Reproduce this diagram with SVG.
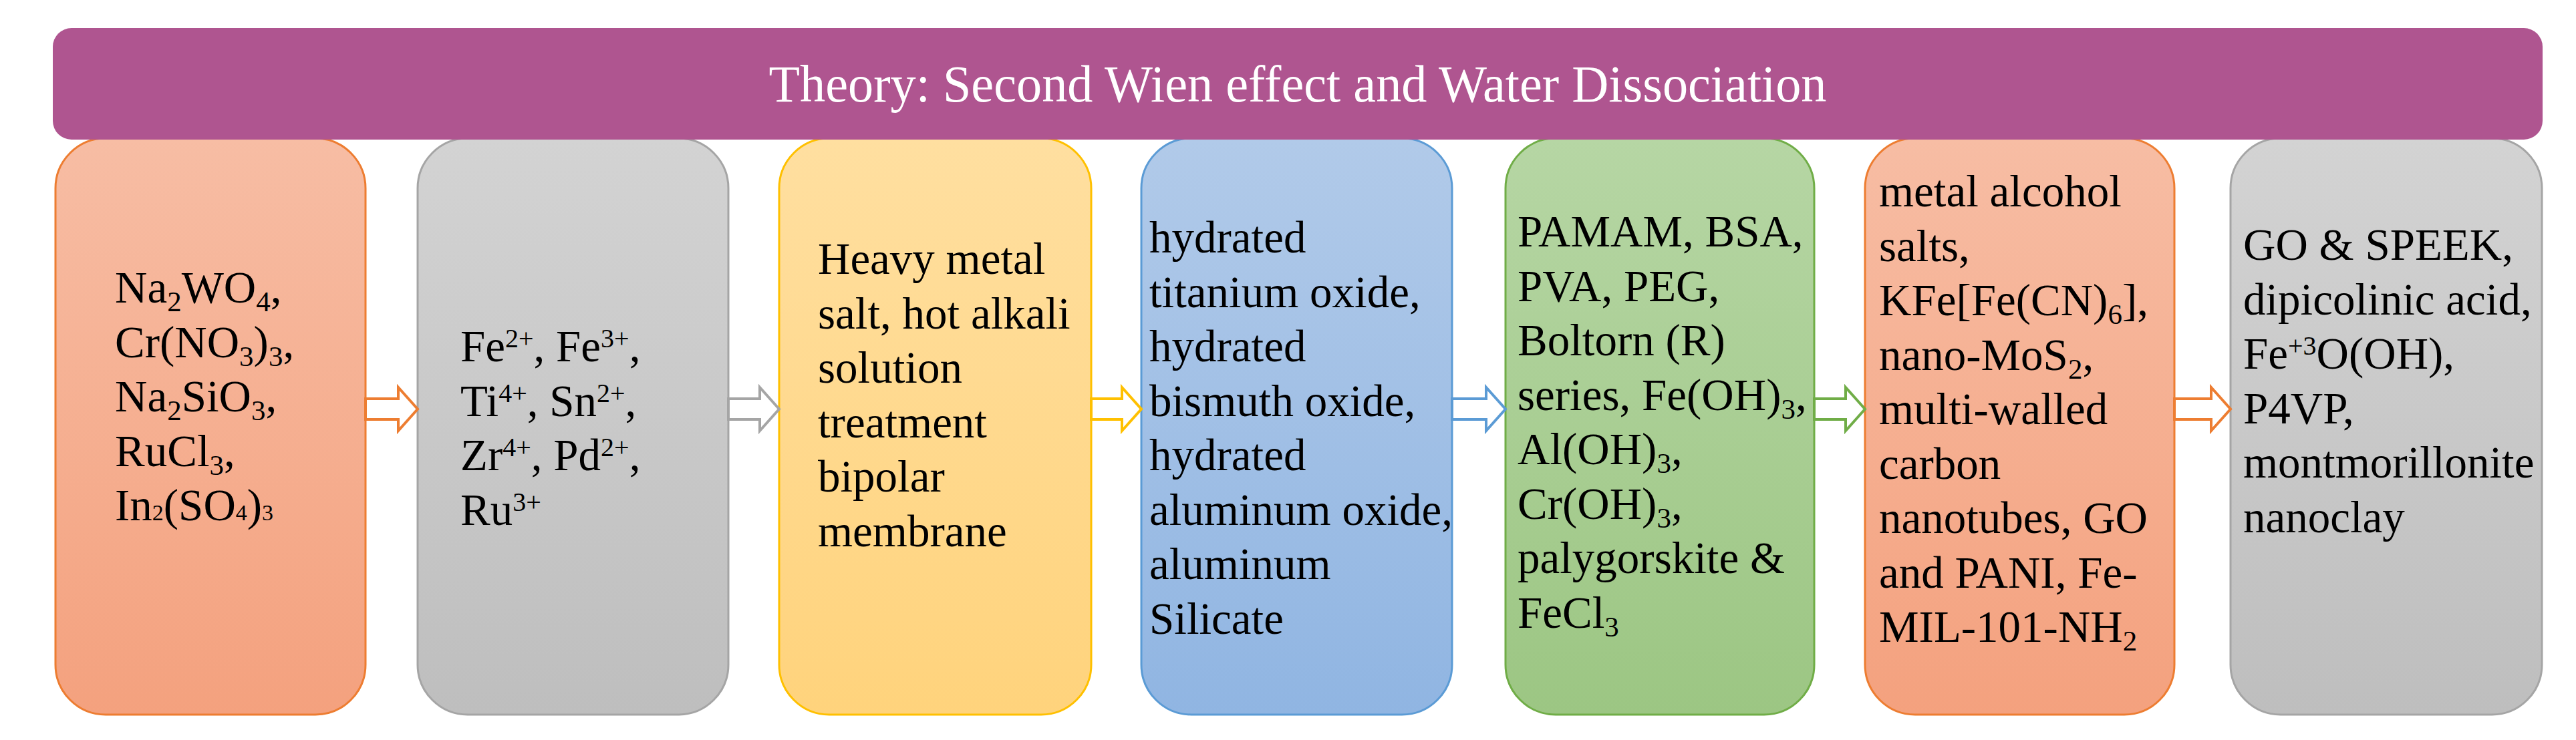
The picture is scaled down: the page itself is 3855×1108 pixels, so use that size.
<svg xmlns="http://www.w3.org/2000/svg" width="3855" height="1108" viewBox="0 0 3855 1108">
  <style>
    .t { font-family: "Liberation Serif", "Times New Roman", serif; font-size: 67px; fill: #000000; }
    .sub { font-size: 43px; }
    .sup { font-size: 40px; }
    .sm { font-size: 34px; }
    .title { font-family: "Liberation Serif", "Times New Roman", serif; font-size: 78px; fill: #FFFFFF; }
    .box { stroke-width: 3; }
    .arr { fill: #FFFFFF; stroke-width: 4; stroke-linejoin: miter; }
  </style>
  <defs>
    <linearGradient id="gOrange" x1="0" y1="0" x2="0" y2="1">
      <stop offset="0" stop-color="#F7BDA4"/>
      <stop offset="1" stop-color="#F4A17E"/>
    </linearGradient>
    <linearGradient id="gGray" x1="0" y1="0" x2="0" y2="1">
      <stop offset="0" stop-color="#D3D3D3"/>
      <stop offset="1" stop-color="#BEBEBE"/>
    </linearGradient>
    <linearGradient id="gYellow" x1="0" y1="0" x2="0" y2="1">
      <stop offset="0" stop-color="#FFDFA0"/>
      <stop offset="1" stop-color="#FFD37C"/>
    </linearGradient>
    <linearGradient id="gBlue" x1="0" y1="0" x2="0" y2="1">
      <stop offset="0" stop-color="#B1CAE9"/>
      <stop offset="1" stop-color="#90B5E2"/>
    </linearGradient>
    <linearGradient id="gGreen" x1="0" y1="0" x2="0" y2="1">
      <stop offset="0" stop-color="#B6D6A4"/>
      <stop offset="1" stop-color="#9CC683"/>
    </linearGradient>
  </defs>

  <g id="node-1">
    <rect class="box" x="83" y="207" width="464" height="863" rx="75" ry="75" fill="url(#gOrange)" stroke="#ED7D31"/>
    <text class="t" x="172" y="453">Na<tspan class="sub" dy="13">2</tspan><tspan dy="-13">WO</tspan><tspan class="sub" dy="13">4</tspan><tspan dy="-13">,</tspan></text>
    <text class="t" x="172" y="534.5">Cr(NO<tspan class="sub" dy="13">3</tspan><tspan dy="-13">)</tspan><tspan class="sub" dy="13">3</tspan><tspan dy="-13">,</tspan></text>
    <text class="t" x="172" y="616">Na<tspan class="sub" dy="13">2</tspan><tspan dy="-13">SiO</tspan><tspan class="sub" dy="13">3</tspan><tspan dy="-13">,</tspan></text>
    <text class="t" x="172" y="697.5">RuCl<tspan class="sub" dy="13">3</tspan><tspan dy="-13">,</tspan></text>
    <text class="t" x="172" y="779">In<tspan class="sm">2</tspan>(SO<tspan class="sm">4</tspan>)<tspan class="sm">3</tspan></text>
  </g>

  <g id="node-2">
    <rect class="box" x="625" y="207" width="465" height="863" rx="75" ry="75" fill="url(#gGray)" stroke="#A5A5A5"/>
    <text class="t" x="689" y="541">Fe<tspan class="sup" dy="-21">2+</tspan><tspan dy="21">, Fe</tspan><tspan class="sup" dy="-21">3+</tspan><tspan dy="21">,</tspan></text>
    <text class="t" x="689" y="622.5">Ti<tspan class="sup" dy="-21">4+</tspan><tspan dy="21">, Sn</tspan><tspan class="sup" dy="-21">2+</tspan><tspan dy="21">,</tspan></text>
    <text class="t" x="689" y="704">Zr<tspan class="sup" dy="-21">4+</tspan><tspan dy="21">, Pd</tspan><tspan class="sup" dy="-21">2+</tspan><tspan dy="21">,</tspan></text>
    <text class="t" x="689" y="785.5">Ru<tspan class="sup" dy="-21">3+</tspan></text>
  </g>

  <g id="node-3">
    <rect class="box" x="1166" y="207" width="467" height="863" rx="75" ry="75" fill="url(#gYellow)" stroke="#FFC000"/>
    <text class="t" x="1224" y="410">Heavy metal</text>
    <text class="t" x="1224" y="491.5">salt, hot alkali</text>
    <text class="t" x="1224" y="573">solution</text>
    <text class="t" x="1224" y="654.5">treatment</text>
    <text class="t" x="1224" y="736">bipolar</text>
    <text class="t" x="1224" y="817.5">membrane</text>
  </g>

  <g id="node-4">
    <rect class="box" x="1708" y="207" width="465" height="863" rx="75" ry="75" fill="url(#gBlue)" stroke="#5B9BD5"/>
    <text class="t" x="1720" y="378">hydrated</text>
    <text class="t" x="1720" y="459.5">titanium oxide,</text>
    <text class="t" x="1720" y="541">hydrated</text>
    <text class="t" x="1720" y="622.5">bismuth oxide,</text>
    <text class="t" x="1720" y="704">hydrated</text>
    <text class="t" x="1720" y="785.5">aluminum oxide,</text>
    <text class="t" x="1720" y="867">aluminum</text>
    <text class="t" x="1720" y="948.5">Silicate</text>
  </g>

  <g id="node-5">
    <rect class="box" x="2253" y="207" width="462" height="863" rx="75" ry="75" fill="url(#gGreen)" stroke="#70AD47"/>
    <text class="t" x="2271" y="369">PAMAM, BSA,</text>
    <text class="t" x="2271" y="450.5">PVA, PEG,</text>
    <text class="t" x="2271" y="532">Boltorn (R)</text>
    <text class="t" x="2271" y="613.5">series, Fe(OH)<tspan class="sub" dy="13">3</tspan><tspan dy="-13">,</tspan></text>
    <text class="t" x="2271" y="695">Al(OH)<tspan class="sub" dy="13">3</tspan><tspan dy="-13">,</tspan></text>
    <text class="t" x="2271" y="776.5">Cr(OH)<tspan class="sub" dy="13">3</tspan><tspan dy="-13">,</tspan></text>
    <text class="t" x="2271" y="858">palygorskite &amp;</text>
    <text class="t" x="2271" y="939.5">FeCl<tspan class="sub" dy="13">3</tspan></text>
  </g>

  <g id="node-6">
    <rect class="box" x="2791" y="207" width="463" height="863" rx="75" ry="75" fill="url(#gOrange)" stroke="#ED7D31"/>
    <text class="t" x="2812" y="309">metal alcohol</text>
    <text class="t" x="2812" y="390.5">salts,</text>
    <text class="t" x="2812" y="472">KFe[Fe(CN)<tspan class="sub" dy="13">6</tspan><tspan dy="-13">],</tspan></text>
    <text class="t" x="2812" y="553.5">nano-MoS<tspan class="sub" dy="13">2</tspan><tspan dy="-13">,</tspan></text>
    <text class="t" x="2812" y="635">multi-walled</text>
    <text class="t" x="2812" y="716.5">carbon</text>
    <text class="t" x="2812" y="798">nanotubes, GO</text>
    <text class="t" x="2812" y="879.5">and PANI, Fe-</text>
    <text class="t" x="2812" y="961">MIL-101-NH<tspan class="sub" dy="13">2</tspan></text>
  </g>

  <g id="node-7">
    <rect class="box" x="3338" y="207" width="466" height="863" rx="75" ry="75" fill="url(#gGray)" stroke="#A5A5A5"/>
    <text class="t" x="3357" y="389">GO &amp; SPEEK,</text>
    <text class="t" x="3357" y="470.5">dipicolinic acid,</text>
    <text class="t" x="3357" y="552">Fe<tspan class="sup" dy="-21">+3</tspan><tspan dy="21">O(OH),</tspan></text>
    <text class="t" x="3357" y="633.5">P4VP,</text>
    <text class="t" x="3357" y="715">montmorillonite</text>
    <text class="t" x="3357" y="796.5">nanoclay</text>
  </g>

  <g id="theory-banner">
    <rect x="79" y="42" width="3726" height="167" rx="28" ry="28" fill="#AF5590"/>
    <text class="title" x="1942" y="152" text-anchor="middle" textLength="1583" lengthAdjust="spacingAndGlyphs">Theory: Second Wien effect and Water Dissociation</text>
  </g>

  <g id="connectors">
    <path class="arr" stroke="#ED7D31" d="M547 597 H596 V580 L625 612.5 L596 645 V628 H547 Z"/>
    <path class="arr" stroke="#A5A5A5" d="M1090 597 H1137 V580 L1166 612.5 L1137 645 V628 H1090 Z"/>
    <path class="arr" stroke="#FFC000" d="M1633 597 H1679 V580 L1708 612.5 L1679 645 V628 H1633 Z"/>
    <path class="arr" stroke="#5B9BD5" d="M2173 597 H2224 V580 L2253 612.5 L2224 645 V628 H2173 Z"/>
    <path class="arr" stroke="#70AD47" d="M2715 597 H2762 V580 L2791 612.5 L2762 645 V628 H2715 Z"/>
    <path class="arr" stroke="#ED7D31" d="M3254 597 H3309 V580 L3338 612.5 L3309 645 V628 H3254 Z"/>
  </g>
</svg>
